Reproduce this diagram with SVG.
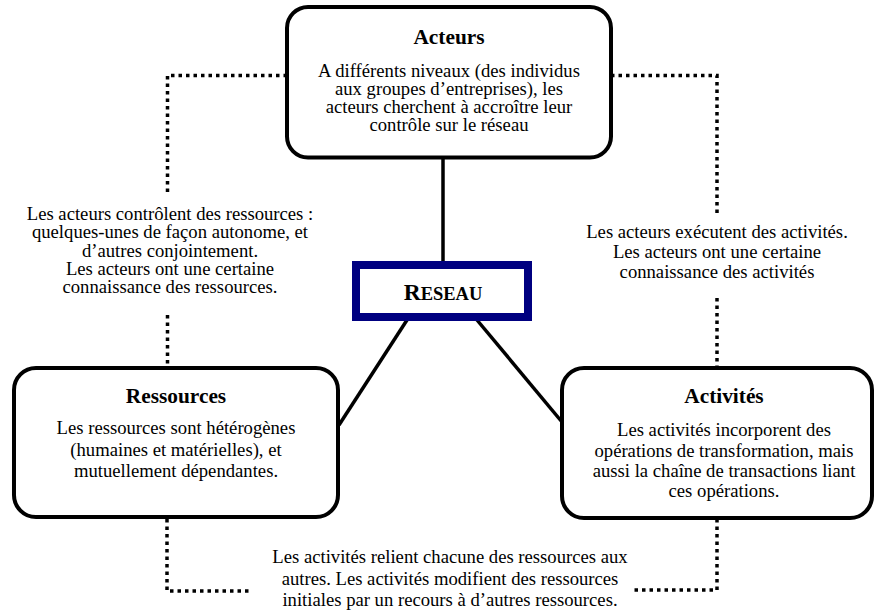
<svg xmlns="http://www.w3.org/2000/svg" width="876" height="611" viewBox="0 0 876 611" font-family="'Liberation Serif', 'Times New Roman', 'DejaVu Serif', serif">
<style>
.box{fill:#fff;stroke:#000;stroke-width:4}
text{font-family:'Liberation Serif','Times New Roman','DejaVu Serif',serif;font-size:18.67px;fill:#000;text-anchor:middle}
.h{font-weight:bold;font-size:21.33px}
.solid{stroke:#000;stroke-width:3.5;fill:none}
.dot{stroke:#000;stroke-width:3.5;fill:none;stroke-dasharray:3.5 4}
</style>
<rect width="876" height="611" fill="#fff"/>
<g id="connectors">
<path class="dot" d="M287,75.5 H167.5 V192"/>
<path class="dot" d="M167.5,315 V367"/>
<path class="dot" d="M611,75.5 H717 V213"/>
<path class="dot" d="M717,298 V367"/>
<path class="dot" d="M167,519 V591 H251"/>
<path class="dot" d="M717,519 V590 H633"/>
<line class="solid" x1="443" y1="158" x2="443" y2="262"/>
<line class="solid" x1="407" y1="320" x2="339" y2="425"/>
<line class="solid" x1="477" y1="320" x2="562" y2="422"/>
<text><tspan x="170" y="220">Les acteurs contrôlent des ressources :</tspan><tspan x="170" y="238.3">quelques-unes de façon autonome, et</tspan><tspan x="170" y="256.6">d’autres conjointement.</tspan><tspan x="170" y="274.9">Les acteurs ont une certaine</tspan><tspan x="170" y="293.2">connaissance des ressources.</tspan></text>
<text><tspan x="717" y="238">Les acteurs exécutent des activités.</tspan><tspan x="717" y="258">Les acteurs ont une certaine</tspan><tspan x="717" y="278">connaissance des activités</tspan></text>
<text><tspan x="450" y="563">Les activités relient chacune des ressources aux</tspan><tspan x="450" y="584.5">autres. Les activités modifient des ressources</tspan><tspan x="450" y="606">initiales par un recours à d’autres ressources.</tspan></text>
</g>
<g id="acteurs">
<rect class="box" x="287" y="7" width="324" height="150.5" rx="21"/>
<text class="h" x="449" y="44">Acteurs</text>
<text><tspan x="449" y="76.5">A différents niveaux (des individus</tspan><tspan x="449" y="94.8">aux groupes d’entreprises), les</tspan><tspan x="449" y="113.1">acteurs cherchent à accroître leur</tspan><tspan x="449" y="131.4">contrôle sur le réseau</tspan></text>
</g>
<g id="reseau">
<rect x="356" y="265" width="172" height="52" fill="#fff" stroke="#000080" stroke-width="8"/>
<text x="443" y="299.5" font-weight="bold"><tspan font-size="23.5px">R</tspan><tspan font-size="18.5px">ESEAU</tspan></text>
</g>
<g id="ressources">
<rect class="box" x="14" y="368" width="324" height="149" rx="22"/>
<text class="h" x="176" y="403">Ressources</text>
<text><tspan x="176" y="434">Les ressources sont hétérogènes</tspan><tspan x="176" y="455.5">(humaines et matérielles), et</tspan><tspan x="176" y="477">mutuellement dépendantes.</tspan></text>
</g>
<g id="activites">
<rect class="box" x="562" y="368" width="310" height="150" rx="22"/>
<text class="h" x="724" y="403">Activités</text>
<text><tspan x="724" y="436">Les activités incorporent des</tspan><tspan x="724" y="456.5">opérations de transformation, mais</tspan><tspan x="724" y="477">aussi la chaîne de transactions liant</tspan><tspan x="724" y="497">ces opérations.</tspan></text>
</g>
</svg>
